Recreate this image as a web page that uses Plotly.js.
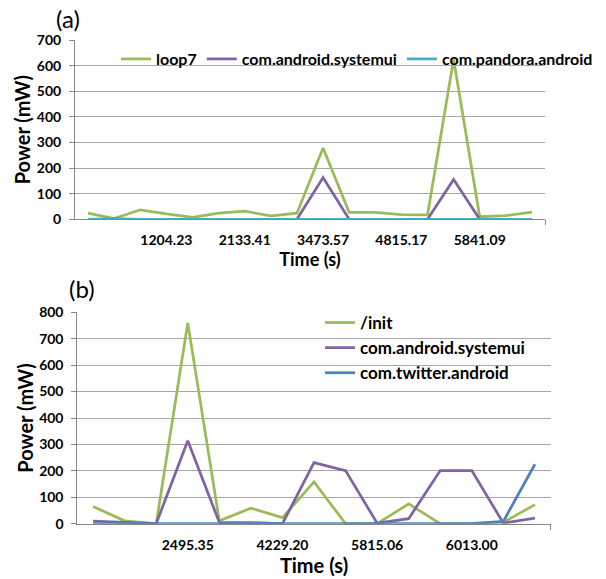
<!DOCTYPE html>
<html>
<head>
<meta charset="utf-8">
<script src="https://cdn.plot.ly/plotly-3.0.1.min.js"></script>
<style>html,body{margin:0;padding:0;background:#fff}#chart{width:606px;height:579px}</style>
</head>
<body>
<div id="chart"></div>
<script>
// ---- Panel (a) data ----
const aLoop7    = [24, 3, 37, 21, 8, 24, 32, 13, 24, 278, 27, 27, 18, 17, 625, 10, 14, 28];
const aSystemui = [0, 2, 0, 0, 0, 0, 0, 0, 0, 163, 0, 0, 0, 0, 155, 0, 0, 0];
const aPandora  = [0, 0, 0, 0, 0, 0, 0, 0, 0, 0, 0, 0, 0, 0, 0, 0, 0, 0];
const aTickIdx  = [3, 6, 9, 12, 15];
const aTickText = ['1204.23', '2133.41', '3473.57', '4815.17', '5841.09'];

// ---- Panel (b) data ----
const bInit     = [65, 11, 0, 760, 11, 59, 23, 158, 0, 0, 75, 0, 0, 5, 72];
const bSystemui = [10, 5, 0, 314, 5, 3, 0, 231, 201, 2, 19, 201, 201, 2, 21];
const bTwitter  = [0, 0, 0, 0, 0, 3, 0, 0, 0, 0, 0, 0, 0, 9, 225];
const bTickIdx  = [3, 6, 9, 12];
const bTickText = ['2495.35', '4229.20', '5815.06', '6013.00'];

const GREEN = '#9BBB59', PURPLE = '#8064A2', CYAN = '#4BACC6', BLUE = '#4F81BD';
const FONT = 'Lato, "Open Sans", sans-serif';
const idx = arr => arr.map((_, i) => i);
const bounds = arr => arr.map((_, i) => i - 0.5).concat([arr.length - 0.5]);

const lw = 2.75;
const traces = [
  {x: idx(aLoop7), y: aLoop7, name: 'loop7', xaxis: 'x', yaxis: 'y', legend: 'legend', line: {color: GREEN, width: lw}},
  {x: idx(aSystemui), y: aSystemui, name: 'com.android.systemui', xaxis: 'x', yaxis: 'y', legend: 'legend', line: {color: PURPLE, width: lw}},
  {x: idx(aPandora), y: aPandora, name: 'com.pandora.android', xaxis: 'x', yaxis: 'y', legend: 'legend', line: {color: CYAN, width: lw}},
  {x: idx(bInit), y: bInit, name: '/init', xaxis: 'x2', yaxis: 'y2', legend: 'legend2', line: {color: GREEN, width: lw}},
  {x: idx(bSystemui), y: bSystemui, name: 'com.android.systemui', xaxis: 'x2', yaxis: 'y2', legend: 'legend2', line: {color: PURPLE, width: lw}},
  {x: idx(bTwitter), y: bTwitter, name: 'com.twitter.android', xaxis: 'x2', yaxis: 'y2', legend: 'legend2', line: {color: BLUE, width: lw}}
].map(t => Object.assign({type: 'scatter', mode: 'lines', hoverinfo: 'skip'}, t));

const tickFont = {family: FONT, size: 14, color: '#000', weight: 'bold'};
const gridC = '#A6A6A6';

function xAxis(n, tickIdx, tickText, domain, titleSize) {
  return {
    domain: domain, range: [-0.5, n - 0.5], fixedrange: true,
    tickmode: 'array', tickvals: tickIdx, ticktext: tickText, ticks: '',
    tickfont: tickFont, ticklabelstandoff: 8,
    showgrid: false, zeroline: false, showline: true, linecolor: '#868686', linewidth: 1,
    minor: {tickmode: 'array', tickvals: bounds(new Array(n)), ticks: 'outside', ticklen: 5, tickcolor: '#868686', tickwidth: 1, showgrid: false},
    title: {text: 'Time (s)', font: {family: FONT, size: titleSize, color: '#000', weight: 'bold'}, standoff: 2}
  };
}
function yAxis(max, domain, anchor) {
  return {
    domain: domain, range: [0, max], dtick: 100, fixedrange: true, anchor: anchor,
    ticks: 'outside', ticklen: 5, tickcolor: '#868686',
    tickfont: tickFont, ticklabelstandoff: 5,
    showgrid: true, gridcolor: gridC, gridwidth: 1, zeroline: false,
    showline: true, linecolor: '#868686', linewidth: 1,
    title: {text: 'Power (mW)', font: {family: FONT, size: 20, color: '#000', weight: 'bold'}, standoff: 0}
  };
}

const layout = {
  width: 606, height: 579, margin: {l: 0, r: 0, t: 0, b: 0},
  paper_bgcolor: '#fff', plot_bgcolor: '#fff',
  font: {family: FONT, color: '#000'},
  xaxis: Object.assign(xAxis(aLoop7.length, aTickIdx, aTickText, [75 / 606, 545 / 606], 18), {anchor: 'y'}),
  yaxis: yAxis(700, [1 - 219.3 / 579, 1 - 40 / 579], 'x'),
  xaxis2: Object.assign(xAxis(bInit.length, bTickIdx, bTickText, [77.3 / 606, 550.7 / 606], 20), {anchor: 'y2'}),
  yaxis2: yAxis(800, [1 - 523.7 / 579, 1 - 312.3 / 579], 'x2'),
  legend: {
    orientation: 'h', x: 116 / 606, y: 1 - 42 / 579, xanchor: 'left', yanchor: 'top',
    bgcolor: 'rgba(0,0,0,0)', font: {family: FONT, size: 16, color: '#000', weight: 'bold'},
    tracegroupgap: 0, itemclick: false, itemdoubleclick: false
  },
  legend2: {
    orientation: 'v', x: 320 / 606, y: 1 - 305 / 579, xanchor: 'left', yanchor: 'top',
    bgcolor: 'rgba(0,0,0,0)', font: {family: FONT, size: 17, color: '#000', weight: 'bold'},
    tracegroupgap: 0, itemclick: false, itemdoubleclick: false
  },
  showlegend: true,
  annotations: [
    {text: '(a)', xref: 'paper', yref: 'paper', x: 54 / 606, y: 1 - 18 / 579, xanchor: 'left', yanchor: 'middle', showarrow: false, font: {family: FONT, size: 24, color: '#000'}},
    {text: '(b)', xref: 'paper', yref: 'paper', x: 67 / 606, y: 1 - 288 / 579, xanchor: 'left', yanchor: 'middle', showarrow: false, font: {family: FONT, size: 24, color: '#000'}}
  ]
};

Plotly.newPlot('chart', traces, layout, {staticPlot: true, displayModeBar: false});
</script>
</body>
</html>
